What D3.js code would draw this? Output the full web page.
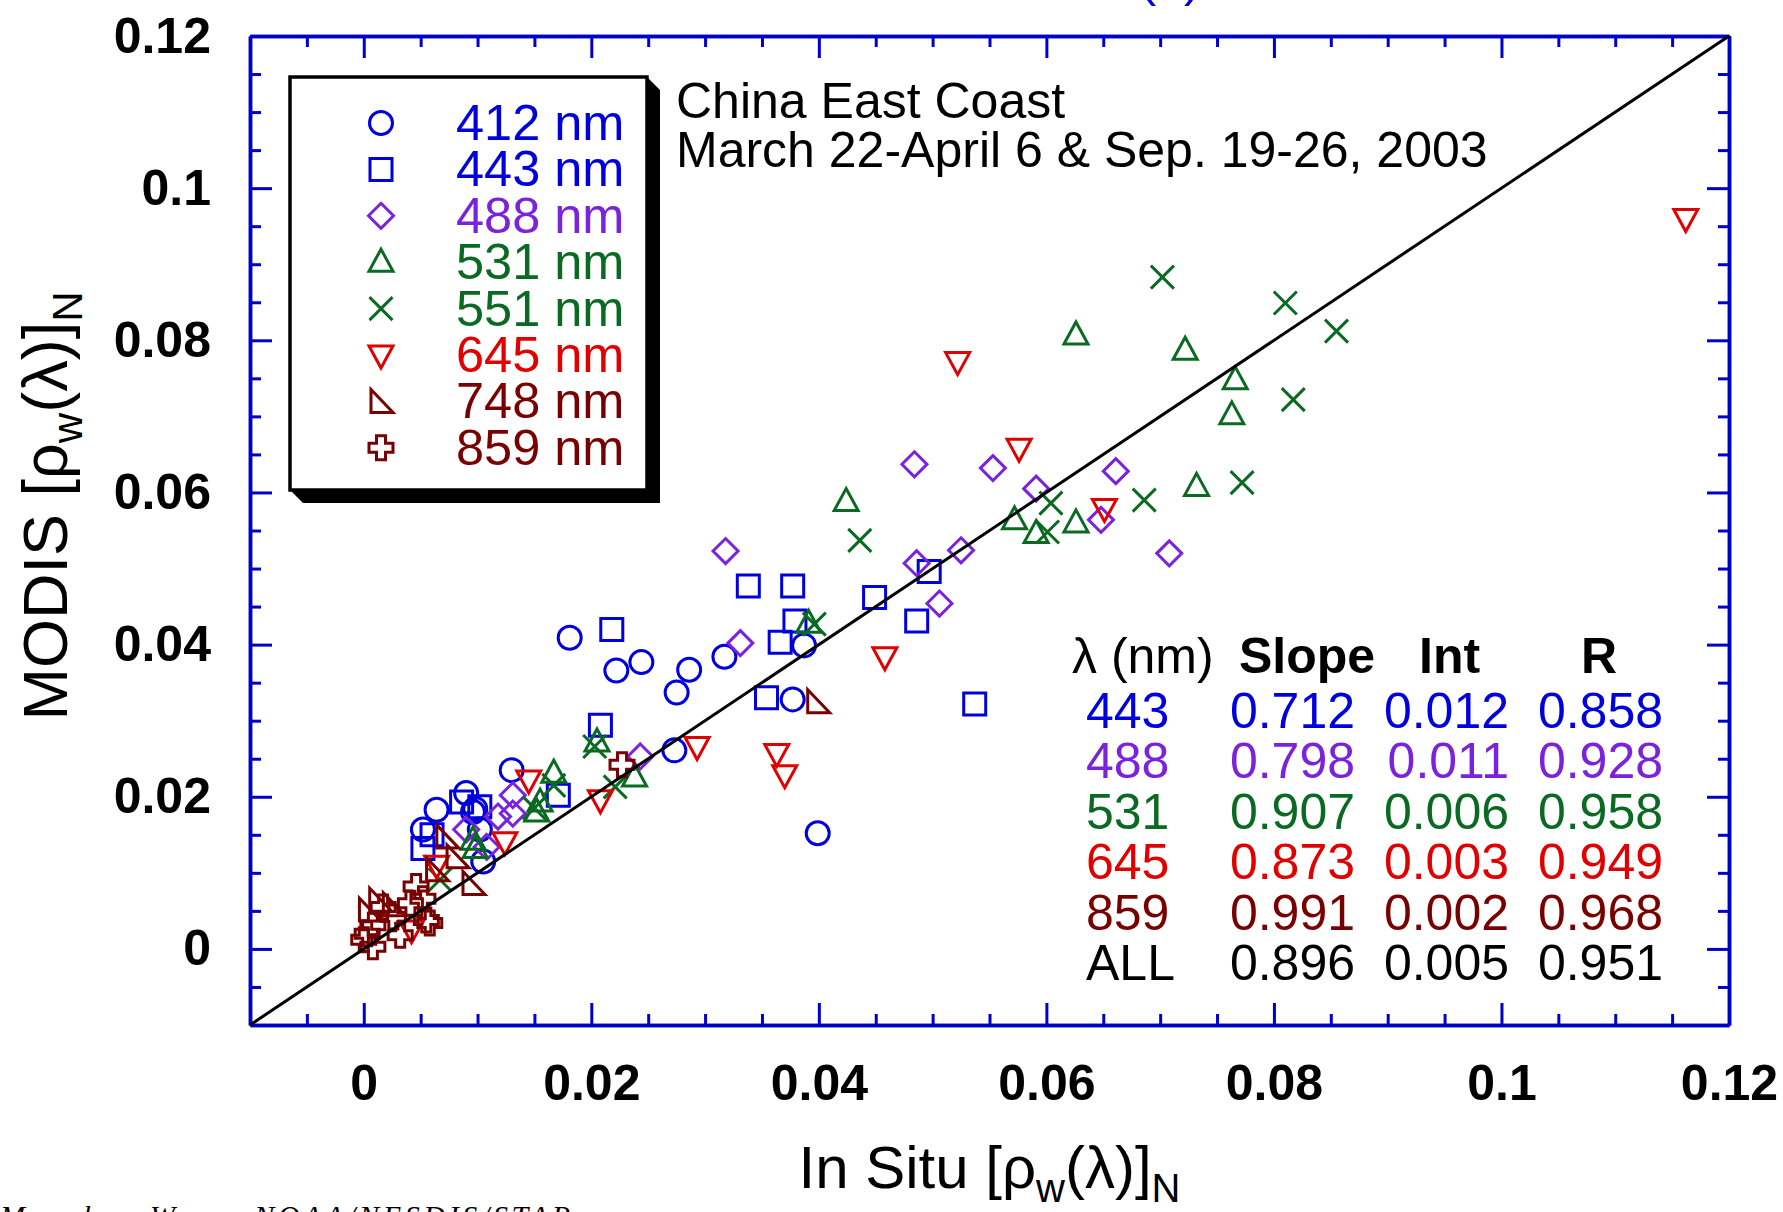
<!DOCTYPE html>
<html>
<head>
<meta charset="utf-8">
<script src="https://cdn.jsdelivr.net/npm/d3@7"></script>
<style>
  body { margin: 0; background: #fff; }
  svg { display: block; font-family: "Liberation Sans", Arial, sans-serif; }
</style>
</head>
<body>
<div id="chart"></div>
<script>
// Chart size and plot box
const W = 1783, H = 1212;
const box = { left: 250, top: 36, right: 1729, bottom: 1025 };

// Series data: [in situ, MODIS]
const s412 = [[0.0181,0.0409],[0.0222,0.0366],[0.0244,0.0377],[0.0286,0.0367],[0.0275,0.0337],[0.0317,0.0384],
  [0.0387,0.0399],[0.0377,0.0328],[0.0273,0.0261],[0.0399,0.0152],[0.0130,0.0235],[0.0090,0.0205],[0.0064,0.0183],
  [0.0052,0.0157],[0.0102,0.0157],[0.0096,0.0180],[0.0105,0.0115],[0.0098,0.0184]];
const s443 = [[0.0338,0.0477],[0.0377,0.0477],[0.0379,0.0431],[0.0366,0.0403],[0.0449,0.0462],[0.0486,0.0431],
  [0.0497,0.0496],[0.0354,0.0330],[0.0537,0.0322],[0.0218,0.0420],[0.0208,0.0294],[0.0171,0.0202],[0.0086,0.0193],
  [0.0052,0.0132],[0.0060,0.0150],[0.0102,0.0187]];
const s488 = [[0.0318,0.0523],[0.0484,0.0637],[0.0553,0.0632],[0.0591,0.0605],[0.0661,0.0628],[0.0648,0.0564],
  [0.0708,0.0520],[0.0525,0.0524],[0.0486,0.0507],[0.0506,0.0454],[0.0331,0.0402],[0.0243,0.0253],[0.0131,0.0202],
  [0.0131,0.0178],[0.0118,0.0174],[0.0090,0.0157],[0.0108,0.0134]];
const s531 = [[0.0424,0.0588],[0.0626,0.0807],[0.0722,0.0787],[0.0766,0.0748],[0.0763,0.0702],[0.0732,0.0608],
  [0.0626,0.0560],[0.0591,0.0546],[0.0572,0.0564],[0.0391,0.0428],[0.0205,0.0272],[0.0238,0.0226],[0.0167,0.0231],
  [0.0155,0.0193],[0.0152,0.0180],[0.0096,0.0143],[0.0098,0.0132]];
const s551 = [[0.0702,0.0883],[0.0810,0.0849],[0.0855,0.0812],[0.0817,0.0722],[0.0772,0.0613],[0.0686,0.0590],
  [0.0604,0.0586],[0.0601,0.0548],[0.0436,0.0537],[0.0396,0.0427],[0.0203,0.0266],[0.0221,0.0213],[0.0167,0.0215],
  [0.0150,0.0185],[0.0067,0.0091]];
const s645 = [[0.1162,0.0960],[0.0522,0.0772],[0.0576,0.0658],[0.0651,0.0579],[0.0458,0.0384],[0.0293,0.0266],
  [0.0363,0.0257],[0.0370,0.0229],[0.0208,0.0196],[0.0145,0.0222],[0.0124,0.0141],[0.0064,0.0110],[0.0042,0.0025]];
const s748 = [[0.0399,0.0325],[0.0073,0.0147],[0.0082,0.0121],[0.0096,0.0086],[0.0064,0.0104],[0.0014,0.0064],
  [0.0005,0.0051],[0.0026,0.0058]];
const s859 = [[0.0227,0.0242],[0.0046,0.0082],[0.0052,0.0066],[0.0026,0.0042],[0.0008,0.0031],[0.0055,0.0038],
  [0.0017,0.0055],[0.0003,0.0020],[0.0041,0.0060],[0.0000,0.0012],[0.0008,0.0003],[0.0032,0.0018],[0.0058,0.0034]];

// Legend labels, colours, symbols
const bands = ["412 nm", "443 nm", "488 nm", "531 nm", "551 nm", "645 nm", "748 nm", "859 nm"];
const bandColors = ["#0000dd", "#0000dd", "#7a22dc", "#0b6a22", "#0b6a22", "#e00000", "#780000", "#780000"];
const bandShapes = ["circle", "square", "diamond", "triUp", "cross", "triDown", "rightTri", "plus"];
const bandData = [s412, s443, s488, s531, s551, s645, s748, s859];

// Regression table
const tableHeader = ["λ (nm)", "Slope", "Int", "R"];
const tableBands = ["443", "488", "531", "645", "859", "ALL"];
const tableSlope = ["0.712", "0.798", "0.907", "0.873", "0.991", "0.896"];
const tableInt = ["0.012", "0.011", "0.006", "0.003", "0.002", "0.005"];
const tableR = ["0.858", "0.928", "0.958", "0.949", "0.968", "0.951"];
const tableColors = ["#0000dd", "#7a22dc", "#0b6a22", "#e00000", "#780000", "#000000"];

// Axis ticks
const majorTicks = [0, 0.02, 0.04, 0.06, 0.08, 0.1, 0.12];
const minorTicks = d3.range(-0.005, 0.1201, 0.005).filter(v => !majorTicks.some(m => Math.abs(m - v) < 1e-6));

const axisBlue = "#0000cc";

const svg = d3.select("#chart").append("svg")
    .attr("width", W)
    .attr("height", H);

svg.append("rect").attr("width", W).attr("height", H).attr("fill", "#fff");

const x = d3.scaleLinear().domain([-0.01, 0.12]).range([box.left, box.right]);
const y = d3.scaleLinear().domain([-0.01, 0.12]).range([box.bottom, box.top]);

// Symbol outlines centred on 0,0
function symbolPath(shape) {
    switch (shape) {
        case "circle": return "M11.5,0A11.5,11.5 0 1,1 -11.5,0A11.5,11.5 0 1,1 11.5,0Z";
        case "square": return "M-11,-11H11V11H-11Z";
        case "diamond": return "M0,-12.5L12.5,0L0,12.5L-12.5,0Z";
        case "triUp": return "M0,-13L12,9L-12,9Z";
        case "triDown": return "M0,13L12,-9L-12,-9Z";
        case "cross": return "M-11.5,-11.5L11.5,11.5M11.5,-11.5L-11.5,11.5";
        case "rightTri": return "M-10,-12L-10,11L12,11Z";
        case "plus": return "M-4.5,-12H4.5V-4.5H12V4.5H4.5V12H-4.5V4.5H-12V-4.5H-4.5Z";
    }
}

// Axes: major and minor ticks on all four sides, pointing inward
function styleAxis(g) {
    g.select(".domain").attr("stroke", axisBlue).attr("stroke-width", 3.5);
    g.selectAll(".tick line").attr("stroke", axisBlue).attr("stroke-width", 3);
}
const fmt = d => d === 0 ? "0" : String(+d.toFixed(2));

const sides = [
    { ax: d3.axisBottom(x), t: `translate(0,${box.bottom})`, labels: true },
    { ax: d3.axisTop(x), t: `translate(0,${box.top})`, labels: false },
    { ax: d3.axisLeft(y), t: `translate(${box.left},0)`, labels: true },
    { ax: d3.axisRight(y), t: `translate(${box.right},0)`, labels: false }
];
sides.forEach(s => {
    svg.append("g").attr("transform", s.t)
        .call(s.ax.tickValues(minorTicks).tickSize(-11).tickSizeOuter(0).tickFormat(""))
        .call(styleAxis);
    const g = svg.append("g").attr("transform", s.t)
        .call(s.ax.tickValues(majorTicks).tickSize(-22).tickSizeOuter(0).tickPadding(39)
            .tickFormat(s.labels ? fmt : ""))
        .call(styleAxis);
    g.selectAll("text")
        .attr("fill", "#000")
        .style("font-size", "50px")
        .style("font-weight", "bold")
        .style("font-family", "'Liberation Sans', Arial, sans-serif");
});

// Data points
const pts = svg.append("g");
bandData.forEach((data, i) => {
    pts.selectAll(null)
        .data(data)
        .enter()
        .append("path")
        .attr("transform", d => `translate(${x(d[0])},${y(d[1])})`)
        .attr("d", symbolPath(bandShapes[i]))
        .attr("fill", "none")
        .attr("stroke", bandColors[i])
        .attr("stroke-width", 3);
});

// 1:1 line
svg.append("line")
    .attr("x1", x(-0.01)).attr("y1", y(-0.01))
    .attr("x2", x(0.12)).attr("y2", y(0.12))
    .attr("stroke", "#000")
    .attr("stroke-width", 3);

// Legend box with shadow
svg.append("path")
    .attr("d", "M647,77L660,90L660,503L303,503L290,490Z")
    .attr("fill", "#000");
svg.append("rect")
    .attr("x", 290).attr("y", 77).attr("width", 357).attr("height", 413)
    .attr("fill", "#fff").attr("stroke", "#000").attr("stroke-width", 3.5);

const legend = svg.append("g");
bands.forEach((b, i) => {
    const cy = 123 + i * 46.4;
    legend.append("path")
        .attr("transform", `translate(381,${cy})`)
        .attr("d", symbolPath(bandShapes[i]))
        .attr("fill", "none")
        .attr("stroke", bandColors[i])
        .attr("stroke-width", 3);
    legend.append("text")
        .attr("x", 456).attr("y", cy + 17)
        .attr("fill", bandColors[i])
        .style("font-size", "50.5px")
        .text(b);
});

// Location note
svg.append("text").attr("x", 676).attr("y", 118).style("font-size", "50px").text("China East Coast");
svg.append("text").attr("x", 676).attr("y", 167).style("font-size", "50px").text("March 22-April 6 & Sep. 19-26, 2003");

// Regression table
const head = svg.append("g").style("font-size", "50px");
head.append("text").attr("x", 1072).attr("y", 673).text(tableHeader[0]);
head.append("text").attr("x", 1239).attr("y", 673).style("font-weight", "bold").text(tableHeader[1]);
head.append("text").attr("x", 1419).attr("y", 673).style("font-weight", "bold").text(tableHeader[2]);
head.append("text").attr("x", 1581).attr("y", 673).style("font-weight", "bold").text(tableHeader[3]);

tableBands.forEach((b, i) => {
    const by = 728 + i * 50.4;
    const row = svg.append("g").attr("fill", tableColors[i]).style("font-size", "50px");
    row.append("text").attr("x", 1086).attr("y", by).text(b);
    row.append("text").attr("x", 1355).attr("y", by).attr("text-anchor", "end").text(tableSlope[i]);
    row.append("text").attr("x", 1509).attr("y", by).attr("text-anchor", "end").text(tableInt[i]);
    row.append("text").attr("x", 1663).attr("y", by).attr("text-anchor", "end").text(tableR[i]);
});

// Axis titles
const xt = svg.append("text")
    .attr("x", (box.left + box.right) / 2).attr("y", 1188)
    .attr("text-anchor", "middle")
    .style("font-size", "60px");
xt.append("tspan").text("In Situ [ρ");
xt.append("tspan").attr("dy", 14).style("font-size", "40px").text("w");
xt.append("tspan").attr("dy", -14).text("(λ)]");
xt.append("tspan").attr("dy", 14).style("font-size", "40px").text("N");

const yt = svg.append("text")
    .attr("transform", "translate(67,506) rotate(-90)")
    .attr("text-anchor", "middle")
    .style("font-size", "63px");
yt.append("tspan").text("MODIS [ρ");
yt.append("tspan").attr("dy", 15).style("font-size", "42px").text("w");
yt.append("tspan").attr("dy", -15).text("(λ)]");
yt.append("tspan").attr("dy", 15).style("font-size", "42px").text("N");

// Cut-off title above and credit below
svg.append("text").attr("x", 1170).attr("y", -4).attr("text-anchor", "middle")
    .attr("fill", "#0000dd").style("font-size", "50px").text("(a)");
svg.append("text").attr("x", 0).attr("y", 1226)
    .attr("textLength", 570)
    .style("font-family", "'Liberation Serif', serif")
    .style("font-style", "italic")
    .style("font-size", "30px")
    .text("Menghua Wang, NOAA/NESDIS/STAR");
</script>
</body>
</html>
